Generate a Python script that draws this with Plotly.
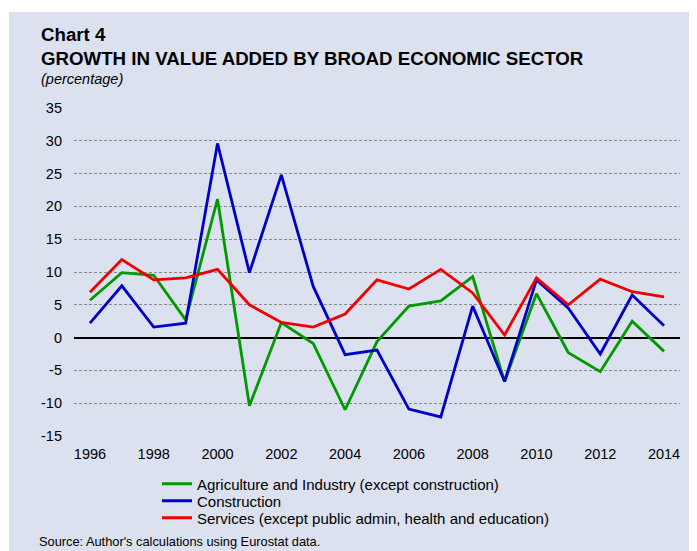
import plotly.graph_objects as go

years = list(range(1996, 2015))
agri_industry = [5.7, 9.9, 9.5, 2.7, 21.1, -10.4, 2.3, -0.9, -11.0, -0.6,
                 4.8, 5.6, 9.3, -6.7, 6.7, -2.3, -5.2, 2.5, -2.1]
construction = [2.2, 7.9, 1.6, 2.2, 29.6, 9.9, 24.8, 7.8, -2.6, -1.9,
                -10.9, -12.1, 4.8, -6.7, 8.8, 4.5, -2.5, 6.5, 1.8]
services = [6.9, 11.9, 8.8, 9.1, 10.4, 5.0, 2.3, 1.6, 3.6, 8.8,
            7.4, 10.4, 6.8, 0.4, 9.1, 5.0, 8.9, 7.0, 6.2]
series_names = ["Agriculture and Industry (except construction)",
                "Construction",
                "Services (except public admin, health and education)"]
x_ticks = list(range(1996, 2015, 2))
y_ticks = list(range(-15, 40, 5))
y_tick_labels = [str(v) for v in y_ticks]

OFF = 8  # page body margin
W, H = 697 - OFF, 551 - OFF
L, T = 74 - OFF, 108 - OFF
PW, PH = 606, 328
R, B = W - L - PW, H - T - PH


def px(xp):
    return (xp - OFF - L) / PW


def py(yp):
    return 1 - (yp - OFF - T) / PH


BG = "#DBE1EE"
FONT = "Liberation Sans, Arial, sans-serif"
colors = ["#009900", "#0000C8", "#F00000"]
legends = ["legend", "legend2", "legend3"]

fig = go.Figure()
for name, vals, col, lg in zip(series_names, [agri_industry, construction, services], colors, legends):
    fig.add_trace(go.Scatter(x=years, y=vals, mode="lines", name=name,
                             line=dict(color=col, width=2.8), legend=lg))

leg_common = dict(xref="paper", yref="paper", xanchor="left", yanchor="middle",
                  bgcolor="rgba(0,0,0,0)", borderwidth=0, itemwidth=30,
                  font=dict(family=FONT, size=15, color="#000"))
leg_x = px(157)
fig.update_layout(
    legend=dict(x=leg_x, y=py(484), **leg_common),
    legend2=dict(x=leg_x, y=py(501), **leg_common),
    legend3=dict(x=leg_x, y=py(518), **leg_common),
)

fig.add_shape(type="rect", xref="paper", yref="paper",
              x0=px(9), x1=px(700), y0=py(554), y1=py(12),
              fillcolor=BG, line=dict(width=0), layer="below")

annots = [
    dict(text="<b>Chart 4</b>", x=px(39), y=py(35), size=18.7),
    dict(text="<b>GROWTH IN VALUE ADDED BY BROAD ECONOMIC SECTOR</b>", x=px(39), y=py(58), size=18.7),
    dict(text="<i>(percentage)</i>", x=px(39), y=py(79), size=14.5),
    dict(text="Source: Author's calculations using Eurostat data.", x=px(37), y=py(541), size=12.8),
]
for a in annots:
    fig.add_annotation(text=a["text"], x=a["x"], y=a["y"], xref="paper", yref="paper",
                       xanchor="left", yanchor="middle", showarrow=False,
                       font=dict(family=FONT, size=a["size"], color="#000"))

fig.update_layout(
    width=W, height=H,
    margin=dict(l=L, r=R, t=T, b=B),
    paper_bgcolor="white",
    plot_bgcolor="white",
    font=dict(family=FONT, size=14.5, color="#000"),
    showlegend=True,
    xaxis=dict(range=[1995.5, 2014.5], tickvals=x_ticks, ticktext=[str(v) for v in x_ticks],
               showgrid=False, zeroline=False, showline=False, ticks="", ticklabelstandoff=7,
               tickfont=dict(family=FONT, size=14.5, color="#000")),
    yaxis=dict(range=[-15, 35], tickvals=y_ticks, ticktext=y_tick_labels,
               showgrid=True, gridcolor="#8A8A8A",
               griddash="3px,2px", gridwidth=1, zeroline=True, zerolinecolor="#000",
               zerolinewidth=2.2, showline=False, ticks="", ticklabelstandoff=11,
               tickfont=dict(family=FONT, size=14.5, color="#000")),
)

fig.write_html("out.html")
